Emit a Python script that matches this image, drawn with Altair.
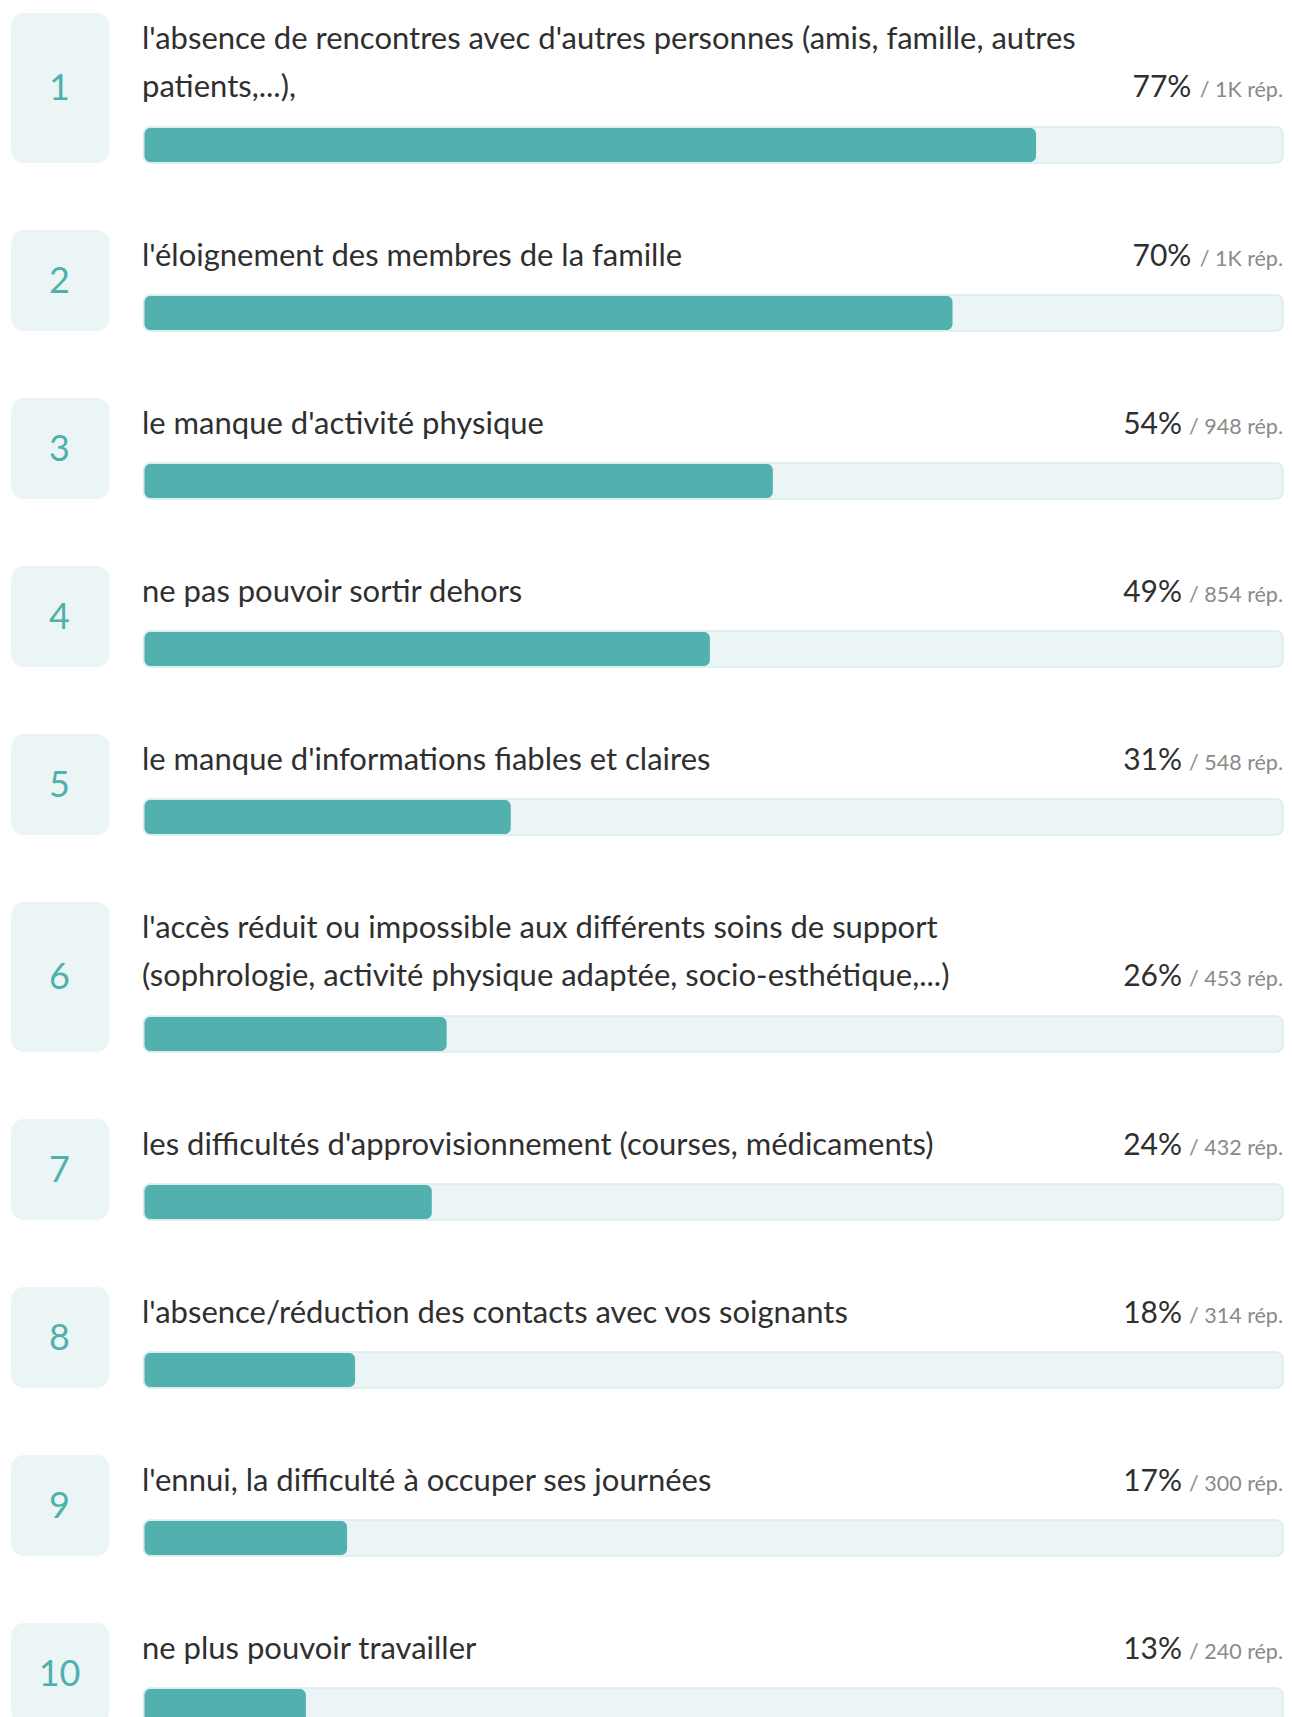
import altair as alt
import pandas as pd

RANKS = [1, 2, 3, 4, 5, 6, 7, 8, 9, 10]
LABELS = [
    ["l'absence de rencontres avec d'autres personnes (amis, famille, autres", "patients,...),"],
    ["l'éloignement des membres de la famille"],
    ["le manque d'activité physique"],
    ["ne pas pouvoir sortir dehors"],
    ["le manque d'informations fiables et claires"],
    ["l'accès réduit ou impossible aux différents soins de support",
     "(sophrologie, activité physique adaptée, socio-esthétique,...)"],
    ["les difficultés d'approvisionnement (courses, médicaments)"],
    ["l'absence/réduction des contacts avec vos soignants"],
    ["l'ennui, la difficulté à occuper ses journées"],
    ["ne plus pouvoir travailler"],
]
PCT = [77, 70, 54, 49, 31, 26, 24, 18, 17, 13]
FILL = [77.9, 70.6, 54.9, 49.4, 32.0, 26.4, 25.1, 18.4, 17.7, 14.1]
COUNTS = ["1K", "1K", "948", "854", "548", "453", "432", "314", "300", "240"]

TEAL = "#52b0ae"
TRACK = "#ebf5f5"
TRACK_STROKE = "#d7ecec"
BOX = "#ecf5f6"
NUM = "#4fb0ac"
DARK = "#2f2f2f"
GREY = "#8a8a8a"
FONT = "Lato"

rows = pd.DataFrame({
    "rank": RANKS,
    "pct": [f"{p}%" for p in PCT],
    "fill": FILL,
    "suffix": [f"/ {c} rép." for c in COUNTS],
    "lastline": [len(l) - 1 for l in LABELS],
})
lines = pd.DataFrame([
    {"rank": r, "line": j, "text": t}
    for r, ls in zip(RANKS, LABELS) for j, t in enumerate(ls)
])

W = 1276
X0 = 135.5
X1 = 1276
FILL_END = 1281
line_scale = alt.Scale(domain=[0, 1], range=[23, 71])


def row(i):
    r = RANKS[i]
    n = len(LABELS[i])
    h = 101 + 49 * (n - 1)
    base = alt.Chart(rows).transform_filter(alt.datum.rank == r)

    box = base.mark_rect(fill=BOX, cornerRadius=13).encode(
        x=alt.value(3), x2=alt.value(101.5), y=alt.value(0), y2=alt.value(h)
    )
    num = base.mark_text(font=FONT, fontSize=36, fontWeight=400, color=NUM,
                         align="center", baseline="middle").encode(
        x=alt.value(51.5), y=alt.value(h / 2 + 1), text="rank:N"
    )
    label = alt.Chart(lines).transform_filter(alt.datum.rank == r).mark_text(
        font=FONT, fontSize=31, color=DARK, align="left", baseline="alphabetic", dy=13
    ).encode(
        x=alt.value(134),
        y=alt.Y("line:Q", scale=line_scale, axis=None),
        text="text:N",
    )
    track = base.mark_rect(fill=TRACK, stroke=TRACK_STROKE, strokeWidth=1.5,
                           cornerRadius=7).encode(
        x=alt.value(X0), x2=alt.value(X1 - 1), y=alt.value(h - 36), y2=alt.value(h)
    )
    bar = base.transform_calculate(zero="0").mark_rect(
        fill=TEAL, cornerRadius=6
    ).encode(
        x=alt.X("zero:Q", scale=alt.Scale(domain=[0, 100], range=[X0 + 1, FILL_END]), axis=None),
        x2="fill:Q",
        y=alt.value(h - 35), y2=alt.value(h - 1),
    )
    suffix = base.mark_text(font=FONT, fontSize=21.5, color=GREY, align="right",
                            baseline="alphabetic", dy=13).encode(
        x=alt.value(X1 - 1),
        y=alt.Y("lastline:Q", scale=line_scale, axis=None),
        text="suffix:N",
    )
    pct = base.transform_calculate(
        px=f"{X1} - length(datum.suffix) * 9.4 - 8"
    ).mark_text(font=FONT, fontSize=30, color=DARK, align="right",
                baseline="alphabetic", dy=13).encode(
        x=alt.X("px:Q", scale=None),
        y=alt.Y("lastline:Q", scale=line_scale, axis=None),
        text="pct:N",
    )
    return alt.layer(box, num, label, track, bar, suffix, pct).properties(
        width=W, height=h
    )


chart = alt.vconcat(*[row(i) for i in range(len(RANKS))], spacing=66).properties(
    padding={"left": 0, "top": 5, "right": 0, "bottom": 0},
    background="white",
).configure_view(stroke=None)

chart.save("out.html", embed_options={"renderer": "svg", "actions": False})
